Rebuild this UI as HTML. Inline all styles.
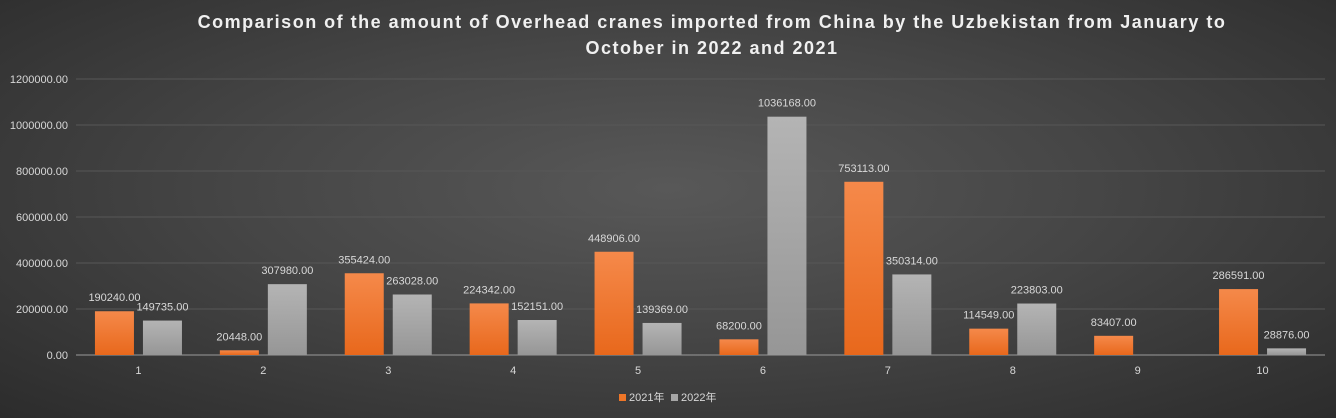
<!DOCTYPE html>
<html><head><meta charset="utf-8"><style>
html,body{margin:0;padding:0;}
body{width:1336px;height:418px;overflow:hidden;background:radial-gradient(ellipse at 50% 45%,#585858 0%,#464646 45%,#2c2c2c 100%);font-family:"Liberation Sans","Noto Sans CJK SC",sans-serif;}
svg{display:block}
</style></head><body>
<svg id="chart" width="1336" height="418" xmlns="http://www.w3.org/2000/svg">
<defs>
<linearGradient id="gO" x1="0" y1="0" x2="0" y2="1"><stop offset="0" stop-color="#f5894a"/><stop offset="1" stop-color="#e8681c"/></linearGradient>
<linearGradient id="gG" x1="0" y1="0" x2="0" y2="1"><stop offset="0" stop-color="#b4b4b4"/><stop offset="1" stop-color="#969696"/></linearGradient>
</defs>
<text x="712" y="28" text-anchor="middle" fill="#f0f0f0" font-size="18" font-weight="bold" letter-spacing="1.5">Comparison of the amount of Overhead cranes imported from China by the Uzbekistan from January to</text>
<text x="712" y="54" text-anchor="middle" fill="#f0f0f0" font-size="18" font-weight="bold" letter-spacing="1.5">October in 2022 and 2021</text>
<g id="grid"></g><g id="bars"></g><g id="labels"></g>
<g>
<rect x="619" y="394" width="7" height="7" fill="#ee7628"/>
<text x="629" y="401" fill="#d8d8d8" font-size="11">2021年</text>
<rect x="671" y="394" width="7" height="7" fill="#a6a6a6"/>
<text x="681" y="401" fill="#d8d8d8" font-size="11">2022年</text>
</g>
</svg>
<script>
const categories=["1","2","3","4","5","6","7","8","9","10"];
const values2021=[190240,20448,355424,224342,448906,68200,753113,114549,83407,286591];
const values2022=[149735,307980,263028,152151,139369,1036168,350314,223803,null,28876];
const yTicks=[0,200000,400000,600000,800000,1000000,1200000];
const NS="http://www.w3.org/2000/svg";
const x0=76,x1=1325,yBase=355,yTop=79,yMax=1200000;
const band=(x1-x0)/categories.length;
function y(v){return yBase-(v/yMax)*(yBase-yTop);}
function cx(i){return x0+band*(i+0.5);}
function mk(t,a,p){const e=document.createElementNS(NS,t);for(const k in a)e.setAttribute(k,a[k]);p.appendChild(e);return e;}
const grid=document.getElementById('grid'),bars=document.getElementById('bars'),labels=document.getElementById('labels');
yTicks.forEach(v=>{
  const l=mk('line',{x1:x0,x2:x1,y1:y(v),y2:y(v),stroke:v===0?'#9a9a9a':'#575757','stroke-width':1},grid);
  
  
  const t=mk('text',{x:68,y:y(v)+4,'text-anchor':'end',fill:'#d8d8d8','font-size':11},grid);
  
  
  t.textContent=v.toFixed(2);
});
const bw=39,gap=9;
categories.forEach((c,i)=>{
  const t=mk('text',{x:cx(i),y:374,'text-anchor':'middle',fill:'#d8d8d8','font-size':11},labels);
  
  
  t.textContent=c;
  [[values2021[i],'url(#gO)',cx(i)-gap/2-bw,'bar-2021'],[values2022[i],'url(#gG)',cx(i)+gap/2,'bar-2022']].forEach(([v,f,x,n])=>{
    if(v==null)return;
    const r=mk('rect',{x:x,y:y(v),width:bw,height:yBase-y(v),fill:f},bars);
    
    
    const lt=mk('text',{x:x+bw/2,y:y(v)-10,'text-anchor':'middle',fill:'#d8d8d8','font-size':11},labels);
    
    
    lt.textContent=v.toFixed(2);
  });
});
</script>
</body></html>
